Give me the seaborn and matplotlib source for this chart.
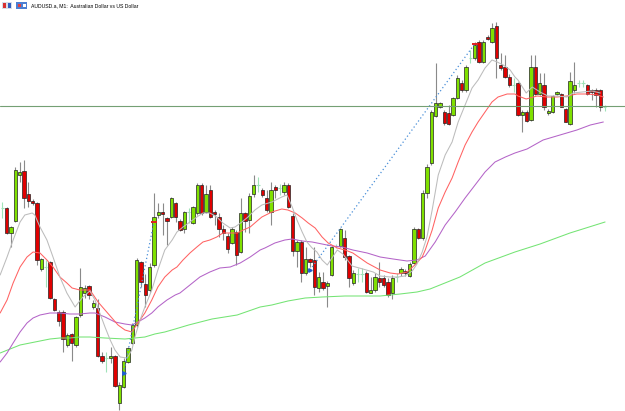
import numpy as np
import pandas as pd
import matplotlib
matplotlib.use("Agg")
import matplotlib.pyplot as plt
from matplotlib.patches import Rectangle
import seaborn as sns

# AUDUSD.a M1 quotes, stored as points below the top quote of the window
TOP = 0.72300
PT = 0.00001

opens = [208, 208, 233, 221, 175, 171, 194, 201, 203, 269, 267, 262, 299, 312, 312, 345, 334, 345, 315, 293,
         286, 307, 308, 356, 358, 358, 356, 403, 387, 362, 343, 325, 262, 284, 290, 265, 215, 212, 218, 217,
         203, 221, 229, 212, 223, 213, 185, 212, 190, 212, 217, 229, 236, 243, 232, 252, 213, 220, 194, 185,
         190, 198, 212, 187, 188, 192, 185, 216, 251, 242, 273, 259, 260, 288, 282, 286, 275, 246, 246, 238,
         256, 283, 274, 274, 273, 293, 290, 278, 278, 282, 293, 277, 273, 271, 276, 263, 229, 238, 193, 163,
         116, 107, 112, 113, 115, 98, 83, 90, 58, 58, 42, 62, 37, 42, 26, 65, 67, 77, 85, 83,
         115, 112, 120, 67, 94, 85, 113, 112, 94, 94, 109, 124, 90, 83, 83, 85, 90, 90, 90, 107]
highs = [202, 207, 226, 167, 162, 160, 182, 199, 202, 258, 260, 261, 298, 310, 310, 333, 333, 316, 268, 285,
         285, 300, 299, 352, 352, 347, 355, 382, 358, 347, 323, 258, 261, 274, 263, 193, 203, 203, 217, 197,
         202, 219, 211, 208, 206, 183, 183, 185, 185, 210, 213, 225, 233, 227, 230, 198, 212, 193, 175, 177,
         188, 190, 182, 185, 184, 182, 183, 213, 240, 240, 247, 258, 247, 272, 272, 281, 246, 244, 228, 230,
         255, 270, 268, 268, 271, 277, 273, 262, 275, 278, 275, 273, 267, 269, 262, 227, 228, 190, 164, 110,
         63, 102, 110, 105, 97, 75, 80, 65, 50, 42, 40, 40, 35, 23, 22, 53, 55, 74, 78, 82,
         110, 110, 55, 55, 73, 73, 109, 95, 91, 93, 108, 72, 62, 80, 80, 84, 89, 88, 89, 105]
lows = [218, 234, 247, 222, 182, 208, 207, 205, 265, 271, 287, 299, 311, 326, 352, 347, 361, 347, 317, 298,
        299, 309, 357, 363, 372, 363, 387, 410, 388, 363, 344, 327, 287, 307, 292, 267, 218, 235, 245, 218,
        222, 231, 233, 223, 224, 215, 215, 213, 218, 225, 237, 240, 253, 244, 265, 253, 232, 233, 197, 192,
        197, 212, 225, 198, 195, 195, 208, 256, 267, 282, 275, 267, 295, 292, 290, 307, 276, 248, 247, 260,
        287, 285, 282, 282, 293, 293, 292, 287, 287, 297, 299, 282, 276, 276, 277, 264, 239, 240, 198, 165,
        117, 108, 125, 125, 116, 99, 92, 92, 63, 60, 63, 63, 40, 43, 78, 70, 78, 87, 92, 116,
        132, 122, 121, 95, 95, 110, 115, 113, 95, 107, 122, 125, 93, 87, 87, 95, 100, 107, 111, 111]
closes = [208, 233, 227, 170, 172, 198, 201, 203, 260, 259, 267, 298, 310, 321, 339, 335, 343, 317, 287, 288,
          295, 303, 356, 361, 358, 356, 386, 385, 361, 348, 325, 260, 282, 295, 267, 217, 212, 214, 221, 198,
          217, 230, 212, 212, 207, 185, 213, 194, 217, 214, 229, 233, 249, 229, 255, 213, 221, 196, 185, 185,
          195, 210, 190, 190, 188, 185, 207, 251, 242, 273, 259, 262, 287, 277, 288, 283, 247, 246, 229, 257,
          278, 273, 274, 274, 292, 290, 277, 282, 285, 295, 278, 277, 269, 273, 264, 229, 238, 193, 167, 112,
          103, 103, 123, 124, 98, 78, 90, 67, 58, 45, 62, 42, 39, 28, 58, 68, 77, 85, 85, 115,
          112, 121, 67, 94, 83, 107, 111, 96, 92, 107, 122, 81, 85, 83, 83, 94, 92, 95, 107, 107]

# moving averages (bar position, points below top)
gray_x = [-0.5, 1.1, 2.5, 4.1, 5.2, 6.9, 7.5, 8.7, 10.3, 11.7, 13.3, 14.9, 16.8, 17.5, 18.6, 20.2, 21.4, 22.5,
          23.7, 24.9, 26, 27.2, 28.8, 29.9, 30.6, 31.8, 32.9, 34.5, 35.9, 37.5, 39.2, 40.3, 41.7, 43.3, 44.9,
          46.3, 47.9, 49.5, 50.9, 52.6, 53.7, 55.3, 56.7, 58.3, 59.9, 62.2, 64.5, 65.7, 66.9, 68, 69.2, 70.3,
          71.5, 72.6, 73.8, 75, 77.3, 78.6, 80.7, 83.2, 85.6, 87.2, 89.5, 91.3, 92.9, 94.6, 95.7, 96.9, 98,
          99.2, 100.6, 102.2, 103.8, 105.2, 106.8, 108.4, 109.8, 111.4, 113, 114.2, 115.6, 117.2, 118.3, 119,
          120.9, 122.3, 124.1, 125.9, 128, 130.3, 131.7, 133.8, 136.1, 138]
gray_y = [275, 257, 240, 222, 215, 213, 215, 227, 240, 257, 277, 293, 307, 303, 297, 291, 300, 313,
          327, 340, 350, 357, 358, 350, 337, 320, 307, 290, 270, 250, 240, 232, 227, 222, 217,
          213, 213, 217, 223, 228, 227, 222, 217, 210, 205, 202, 197, 195, 207, 220, 232, 242,
          248, 252, 260, 265, 250, 254, 266, 269, 272, 276, 277, 277, 276, 271, 264, 252, 237,
          210, 175, 155, 142, 122, 105, 88, 80, 68, 60, 62, 65, 70, 77, 80,
          93, 87, 92, 96, 96, 97, 93, 92, 91, 93]
red_x = [-0.5, 1.1, 2.5, 4.1, 5.7, 7.1, 8.7, 10.3, 11.7, 13.3, 14.9, 16.1, 17.9, 20.2, 20.7, 22.1, 23.7, 25.3,
         26.7, 28.3, 29.9, 31.3, 32.9, 34.5, 35.9, 37.5, 39.2, 40.3, 41.7, 43.3, 44.9, 46.3, 47.9, 49.5, 50.9,
         52.6, 54.2, 55.6, 57.2, 58.8, 59.9, 62.2, 64.5, 65.9, 67.6, 69.2, 70.6, 72.2, 73.8, 75.2, 77.3, 79.1,
         80.9, 84.2, 87.2, 89.5, 91.3, 93.4, 95.2, 96.9, 97.6, 99.2, 100.6, 102.2, 103.8, 105.2, 106.8, 108.4,
         109.8, 111.4, 113, 114.4, 116.5, 118.3, 119, 120.9, 123.4, 125.7, 128, 130.3, 132.6, 135, 137.3, 138.7]
red_y = [313, 300, 283, 267, 257, 252, 253, 260, 267, 277, 283, 288, 290, 290, 293, 302, 310, 318,
         325, 330, 332, 323, 313, 300, 287, 277, 270, 267, 260, 253, 247, 242, 240, 237, 233,
         233, 233, 230, 227, 221, 217, 212, 209, 210, 213, 218, 223, 228, 237, 243, 248, 250,
         253, 263, 270, 273, 274, 272, 265, 257, 250, 230, 208, 192, 178, 162, 145, 132,
         122, 112, 102, 97, 94, 94, 96, 99, 96, 97, 97, 96, 94, 94, 95, 97]
purple_x = [-0.5, 1.1, 2.5, 4.1, 5.7, 7.1, 8.7, 11, 13.3, 15.6, 17.9, 20.2, 21.4, 23.7, 26, 28.3, 29.9, 31.3,
            32.9, 34.5, 35.9, 38, 39.9, 41, 43.3, 45.6, 47.9, 50.2, 52.6, 54.9, 57.2, 59.5, 60.6, 62.9, 65.2,
            66.9, 69.2, 71.5, 73.8, 76.1, 78.4, 80.9, 84.2, 87.2, 90.2, 93.4, 95.7, 97.6, 99.9, 102.2, 104.5,
            106.8, 109.1, 111.4, 113.7, 116.1, 118.3, 121.1, 124.8, 128.7, 132.6, 135.7, 138.7]
purple_y = [362, 353, 343, 332, 323, 318, 315, 313, 313, 314, 314, 313, 313, 317, 322, 324, 325, 322,
            318, 313, 307, 300, 295, 293, 285, 277, 272, 268, 267, 263, 257, 250, 248, 243, 240,
            239, 241, 242, 244, 246, 247, 250, 253, 257, 259, 261, 260, 256, 242, 225, 212,
            198, 185, 172, 162, 157, 153, 149, 140, 135, 130, 125, 122]
green_x = [-0.5, 1.8, 4.1, 6.4, 8.7, 11, 13.3, 15.6, 17.9, 20.2, 23.7, 28.3, 30.6, 32.9, 35.2, 37.5, 39.9, 43,
           48.4, 54.2, 59.5, 62.2, 65.9, 69.9, 73.8, 79.1, 82.6, 87.2, 91.8, 95.7, 98.7, 105.6, 111.4, 118.3,
           124.1, 131, 139.1]
green_y = [353, 349, 345, 343, 341, 339, 338, 338, 337, 337, 338, 339, 338, 337, 334, 332, 329, 325,
           319, 315, 307, 305, 301, 298, 297, 296, 296, 296, 294, 292, 289, 277, 263, 252,
           244, 233, 222]

# trades from the history (open bar/level -> close bar/level)
trade_open_bar = [28, 71]
trade_open_lvl = [373, 270]
trade_close_bar = [35, 109]
trade_close_lvl = [222, 44]
hline_lvl = 106


def to_price(v):
    return TOP - np.asarray(v, dtype=float) * PT


df = pd.DataFrame({
    "bar": np.arange(len(opens)),
    "open": to_price(opens), "high": to_price(highs),
    "low": to_price(lows), "close": to_price(closes),
})
doji = df[df.open == df.close]
body = df[df.open != df.close]
up = body[body.close > body.open]
dn = body[body.close < body.open]

sns.set_style("white")
fig = plt.figure(figsize=(6.25, 4.11), dpi=100)
ax = fig.add_axes([0, 0, 1, 1])

# wicks
ax.vlines(body.bar, body.low, body.high, color="#8a8a8a", lw=0.8, zorder=2)
# bodies
w = 0.72
ax.bar(up.bar, up.close - up.open, bottom=up.open, width=w, color="#7fe000",
       edgecolor="#222222", linewidth=0.5, zorder=3)
ax.bar(dn.bar, dn.open - dn.close, bottom=dn.close, width=w, color="#e00000",
       edgecolor="#222222", linewidth=0.5, zorder=3)
# doji crosses
ax.vlines(doji.bar, doji.low, doji.high, color="#9fe3b8", lw=0.8, zorder=2)
ax.hlines(doji.close, doji.bar - w / 2, doji.bar + w / 2, color="#9fe3b8", lw=0.8, zorder=2)

# moving averages
for xs, ys, col in [(green_x, green_y, "#74e474"), (purple_x, purple_y, "#b464c8"),
                    (red_x, red_y, "#ff6262"), (gray_x, gray_y, "#bcbcbc")]:
    sns.lineplot(x=xs, y=to_price(ys), ax=ax, color=col, lw=0.75, sort=False,
                 estimator=None, zorder=4)

# trade history lines
for ob, ol, cb, cl in zip(trade_open_bar, trade_open_lvl, trade_close_bar, trade_close_lvl):
    ax.plot([ob, cb], to_price([ol, cl]), color="#4a8fd8", lw=0.9, ls=(0, (1, 2)), zorder=5)
    ax.plot(ob, to_price(ol), marker=">", ms=2.5, color="#1f5fd0", zorder=6)
    ax.plot(cb, to_price(cl), marker="_", ms=4, mew=1.4, color="#e02020", zorder=6)

# current price line
ax.axhline(to_price(hline_lvl), color="#74a074", lw=0.8, zorder=5)

ax.set_xlim(-0.53, 143.7)
ax.set_ylim(TOP - 411 * PT, TOP)
ax.axis("off")

# header icons and caption
W, H = 625, 411
def box(x, y, w_, h_, col):
    fig.add_artist(Rectangle((x / W, 1 - (y + h_) / H), w_ / W, h_ / H,
                             transform=fig.transFigure, color=col, lw=0))
box(2, 2, 10, 7, "#d7dde8")
box(3, 3, 3, 5, "#d83030")
box(8, 3, 3, 5, "#3060c0")
box(16, 2, 11, 7, "#4c7fd2")
box(18, 4, 3, 3, "#e04040")
box(23, 4, 3, 3, "#ffffff")
fig.text(31 / W, 1 - 5.5 / H, "AUDUSD.a, M1:  Australian Dollar vs US Dollar",
         fontsize=3.7, family="Liberation Sans", va="center", ha="left", color="#000000")

fig.savefig("out.png", dpi=100)
